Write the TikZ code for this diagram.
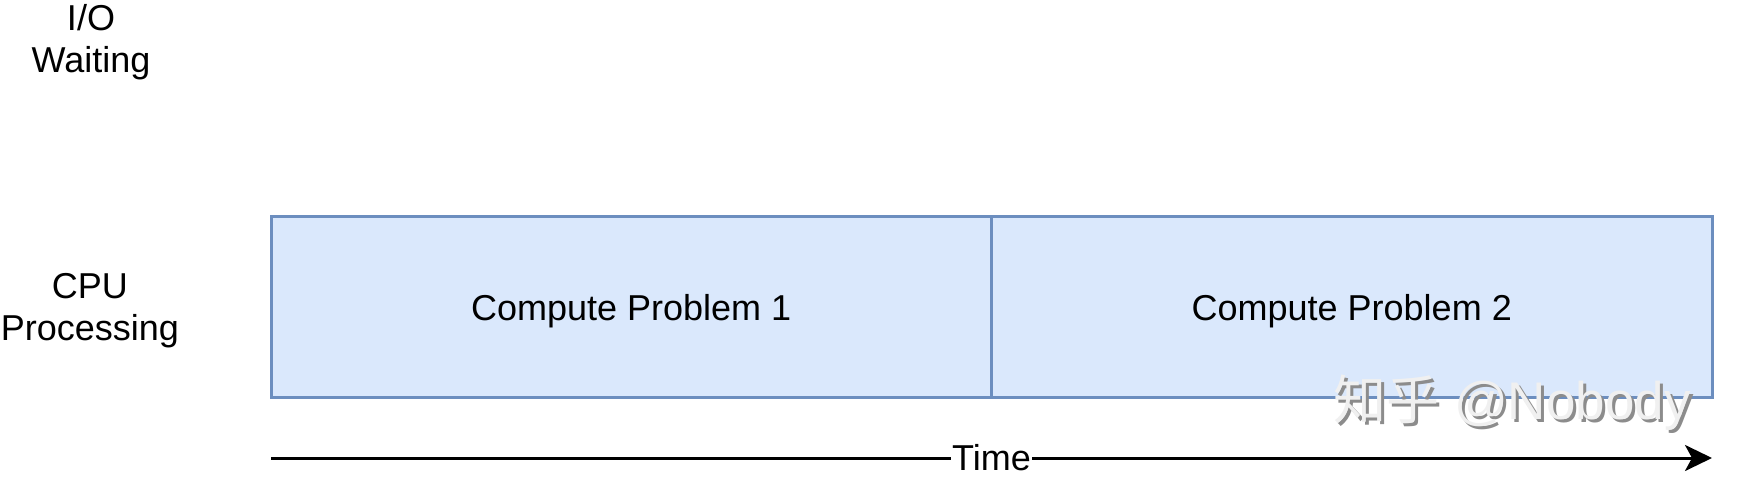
\documentclass[tikz,border=0pt]{standalone}
\usepackage{fontspec}
\setmainfont{Liberation Sans}
\newfontfamily\cjk{Noto Sans CJK SC}
\usetikzlibrary{positioning,arrows.meta}

\definecolor{taskfill}{HTML}{DAE8FC}
\definecolor{taskdraw}{HTML}{6C8EBF}

\begin{document}
\begin{tikzpicture}[x=1pt,y=-1pt,>={Stealth[length=27pt,width=26pt,inset=7pt]},
  task/.style={rectangle,fill=taskfill,draw=taskdraw,line width=3pt,outer sep=0pt,
    minimum width=720.5pt,minimum height=180pt,text height=26pt,text depth=0pt,
    font=\fontsize{36}{42}\selectfont},
  lane/.style={align=center,font=\fontsize{36}{42}\selectfont},
  wmark/.style={font=\fontsize{53}{60}\selectfont}]

 \useasboundingbox (0,0) rectangle (1737,486);

 % lane labels
 \node[lane] (io) at (91,42) {I/O\\Waiting};
 \node[lane] (cpu) at (90,311) {CPU\\Processing};

 % cpu work
 \node[task,anchor=north west] (p1) at (271,217) {Compute Problem 1};
 \node[task,right=0pt of p1] (p2) {Compute Problem 2};

 % time axis
 \coordinate (t0) at (271,458);
 \coordinate (t1) at (1712,458);
 \draw[->,line width=3pt] (t0) -- node[fill=white,inner sep=1pt,font=\fontsize{36}{42}\selectfont] (time) {Time} (t1);

 % watermark
 \node[wmark,text=black!45] (shadow) at (1515,406) {{\cjk 知乎} @Nobody};
 \node[wmark,text=black!6] (brand) at (1512,403) {{\cjk 知乎} @Nobody};

\end{tikzpicture}
\end{document}
